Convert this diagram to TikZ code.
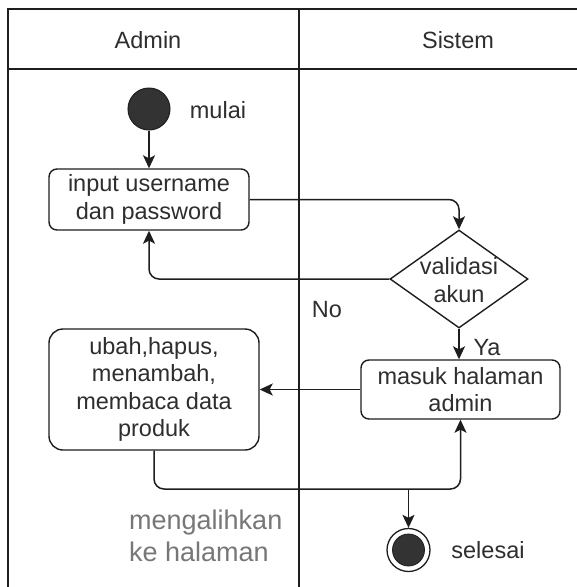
\documentclass[tikz,border=0pt]{standalone}
\usepackage{fontspec}
\setmainfont{Liberation Sans}
\usetikzlibrary{arrows.meta,shapes.geometric}
\definecolor{ln}{HTML}{1E1E1E}
\definecolor{tx}{HTML}{2E2E2E}
\definecolor{fillc}{HTML}{333333}
\definecolor{grayt}{HTML}{777777}
\tikzset{
  lane/.style={draw=ln, line width=1.6pt},
  txt/.style={text=tx, font=\fontsize{23.5}{27.5}\selectfont, inner sep=0pt, align=center},
  actbox/.style={draw=ln, line width=1.4pt, fill=white, text=tx, font=\fontsize{23.5}{27.5}\selectfont, align=center, inner sep=0pt},
  arr/.style={draw=ln, line width=1.5pt, rounded corners=10pt, -{Stealth[length=13pt,width=12pt,inset=3pt]}},
  plainline/.style={draw=ln, line width=1.5pt, rounded corners=10pt},
}
\begin{document}
\begin{tikzpicture}[x=1pt,y=-1pt]
\useasboundingbox (0,0) rectangle (577,587);
\fill[white] (0,0) rectangle (577,587);
% swimlanes
\draw[lane] (577,9) -- (8,9) -- (8,587);
\draw[lane] (8,69) -- (577,69);
\draw[lane] (299,9) -- (299,587);
\node[txt] (hadmin) at (148,40) {Admin};
\node[txt] (hsistem) at (458,40) {Sistem};
% nodes
\node[circle, fill=fillc, draw=ln, line width=1pt, minimum size=42pt, inner sep=0pt] (start) at (149,109) {};
\node[txt, anchor=center] (lmulai) at (218,110) {mulai};
\node[actbox, rounded corners=8pt, minimum width=200pt, minimum height=61pt] (inp) at (149,199.5) {input username\\dan password};
\node[diamond, draw=ln, line width=1.4pt, fill=white, minimum width=138pt, minimum height=98pt, inner sep=0pt, aspect=1.408] (dia) at (459,279) {};
\node[txt] (diatext) at (459,280) {validasi\\akun};
\node[actbox, rounded corners=8pt, minimum width=199pt, minimum height=59pt] (masuk) at (460.5,389.5) {masuk halaman\\admin};
\node[actbox, rounded corners=14pt, minimum width=210pt, minimum height=121pt] (ubah) at (154,389.5) {ubah,hapus,\\menambah,\\membaca data\\produk};
\node[circle, draw=ln, line width=1.3pt, fill=white, minimum size=43pt, inner sep=0pt] (end) at (408.5,550) {};
\node[circle, fill=fillc, draw=ln, line width=0.8pt, minimum size=32pt, inner sep=0pt] (endin) at (408.5,550) {};
\node[txt] (lselesai) at (488,550) {selesai};
\node[txt] (lno) at (327,310) {No};
\node[txt] (lya) at (487,348) {Ya};
\node[txt, text=grayt, font=\fontsize{27}{32}\selectfont, align=left, anchor=west] (lalih) at (129,536) {mengalihkan\\ke halaman};
\coordinate (j) at (408.5,489);
% connectors
\draw[arr] (start) -- (inp);
\draw[arr] (inp.east) -| (dia.north);
\draw[arr] (dia.west) -| (inp.south);
\draw[arr] (dia.south) -- (dia.south |- masuk.north);
\draw[arr] (masuk.west) -- (masuk.west -| ubah.east);
\draw[arr] (ubah.south) |- (j) -| (masuk.south);
\draw[arr] (j) -- (end);
\end{tikzpicture}
\end{document}
